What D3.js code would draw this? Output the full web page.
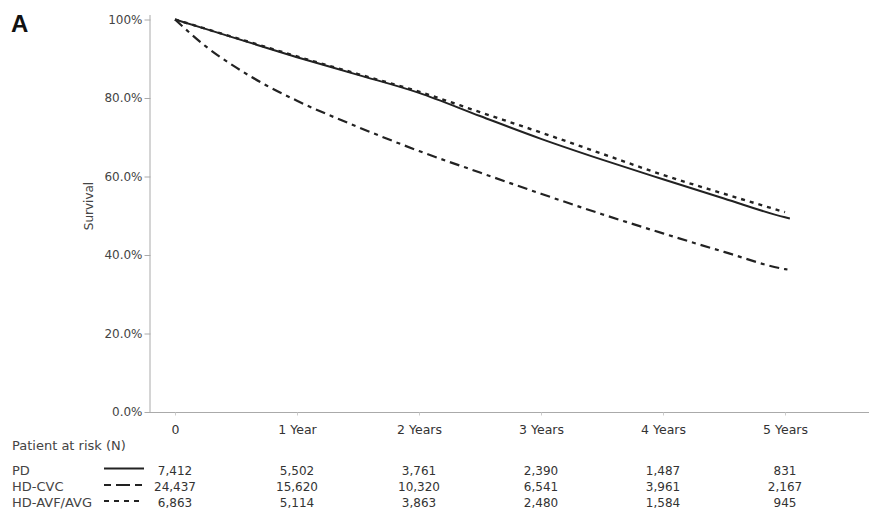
<!DOCTYPE html>
<html>
<head>
<meta charset="utf-8">
<script src="https://cdn.jsdelivr.net/npm/d3@7/dist/d3.min.js"></script>
<style>
  html, body { margin: 0; padding: 0; background: #fff; }
  svg text { font-family: "DejaVu Sans", Verdana, sans-serif; fill: #333; }
</style>
</head>
<body>
<svg id="chart" width="869" height="519"></svg>
<script>
// Kaplan-Meier survival by initial dialysis modality (years since start)
const pdTimes   = [0, 0.5, 1, 1.5, 2, 2.5, 3, 3.5, 4, 4.5, 5, 5.04];
const pdSurv    = [1.000, 0.952, 0.904, 0.859, 0.813, 0.754, 0.696, 0.643, 0.593, 0.544, 0.496, 0.493];
const cvcTimes  = [0, 0.25, 0.5, 0.75, 1, 1.5, 2, 2.5, 3, 3.5, 4, 4.5, 5, 5.02];
const cvcSurv   = [1.000, 0.932, 0.878, 0.832, 0.793, 0.726, 0.665, 0.610, 0.556, 0.504, 0.455, 0.408, 0.364, 0.363];
const avfTimes  = [0, 0.5, 1, 1.5, 2, 2.5, 3, 3.5, 4, 4.5, 5];
const avfSurv   = [1.000, 0.953, 0.906, 0.861, 0.816, 0.764, 0.712, 0.658, 0.604, 0.556, 0.509];

const groupNames = ["PD", "HD-CVC", "HD-AVF/AVG"];
const xTickValues = [0, 1, 2, 3, 4, 5];
const xTickLabels = ["0", "1 Year", "2 Years", "3 Years", "4 Years", "5 Years"];
const yTickValues = [0, 0.2, 0.4, 0.6, 0.8, 1.0];
const yTickLabels = ["0.0%", "20.0%", "40.0%", "60.0%", "80.0%", "100%"];
const atRiskPD  = ["7,412", "5,502", "3,761", "2,390", "1,487", "831"];
const atRiskCVC = ["24,437", "15,620", "10,320", "6,541", "3,961", "2,167"];
const atRiskAVF = ["6,863", "5,114", "3,863", "2,480", "1,584", "945"];

// line styles per group: solid, dash-dot, dotted
const curveDash  = [null, "10,5,4,5", "4,5"];
const legendDash = [null, "7,5,14,5,7,60", "5,5"];

const svg = d3.select("#chart");

const x = d3.scaleLinear().domain([0, 5]).range([175, 785]);
const y = d3.scaleLinear().domain([0, 1]).range([412, 19.5]);

// panel letter
svg.append("text").attr("x", 11).attr("y", 32)
  .style("font-family", "'Liberation Sans', Arial, sans-serif")
  .style("font-size", "24px").style("font-weight", "bold").style("fill", "#111")
  .text("A");

// y axis
const yAxis = d3.axisLeft(y)
  .tickValues(yTickValues)
  .tickFormat((d, i) => yTickLabels[i])
  .tickSize(6).tickPadding(2);
const gy = svg.append("g").attr("transform", "translate(150.5,0)").call(yAxis);
gy.select(".domain").attr("stroke", "#aaa").attr("d", "M-0.5,15V412.5");
gy.selectAll(".tick line").attr("stroke", "#aaa");
gy.selectAll(".tick text").style("font-size", "12px").style("fill", "#444");

// x axis line
svg.append("line").attr("x1", 150).attr("x2", 869).attr("y1", 412.5).attr("y2", 412.5)
  .attr("stroke", "#aaa");
const xAxis = d3.axisBottom(x)
  .tickValues(xTickValues)
  .tickFormat((d, i) => xTickLabels[i])
  .tickSize(3).tickPadding(10);
const gx = svg.append("g").attr("transform", "translate(0,412.5)").call(xAxis);
gx.select(".domain").remove();
gx.selectAll(".tick line").attr("stroke", "#ccc");
gx.selectAll(".tick text").style("font-size", "12.5px").style("fill", "#333");

// y axis title
svg.append("text")
  .attr("transform", "translate(93,206) rotate(-90)")
  .attr("text-anchor", "middle")
  .style("font-size", "12px").style("fill", "#444")
  .text("Survival");

// survival curves
const line = d3.line().x(d => x(d[0])).y(d => y(d[1])).curve(d3.curveMonotoneX);
const curves = [
  d3.zip(pdTimes, pdSurv),
  d3.zip(cvcTimes, cvcSurv),
  d3.zip(avfTimes, avfSurv)
];
const widths = [2, 2.2, 2.4];
curves.forEach((pts, i) => {
  svg.append("path")
    .attr("d", line(pts))
    .attr("fill", "none")
    .attr("stroke", "#222")
    .attr("stroke-width", widths[i])
    .attr("stroke-dasharray", curveDash[i]);
});

// risk table
svg.append("text").attr("x", 12).attr("y", 450)
  .style("font-size", "13px").style("fill", "#444")
  .text("Patient at risk (N)");

const riskRows = [atRiskPD, atRiskCVC, atRiskAVF];
const rowY = [474.5, 491, 507];
riskRows.forEach((row, r) => {
  svg.append("text").attr("x", 12).attr("y", rowY[r])
    .style("font-size", "13px").style("fill", "#444")
    .text(groupNames[r]);
  svg.append("line")
    .attr("x1", 104).attr("x2", 144)
    .attr("y1", rowY[r] - 6).attr("y2", rowY[r] - 6)
    .attr("stroke", "#222").attr("stroke-width", 2)
    .attr("stroke-dasharray", legendDash[r]);
  svg.selectAll(null).data(row).enter().append("text")
    .attr("x", (d, i) => x(xTickValues[i]))
    .attr("y", rowY[r])
    .attr("text-anchor", "middle")
    .style("font-size", "12px").style("fill", "#333")
    .text(d => d);
});
</script>
</body>
</html>
